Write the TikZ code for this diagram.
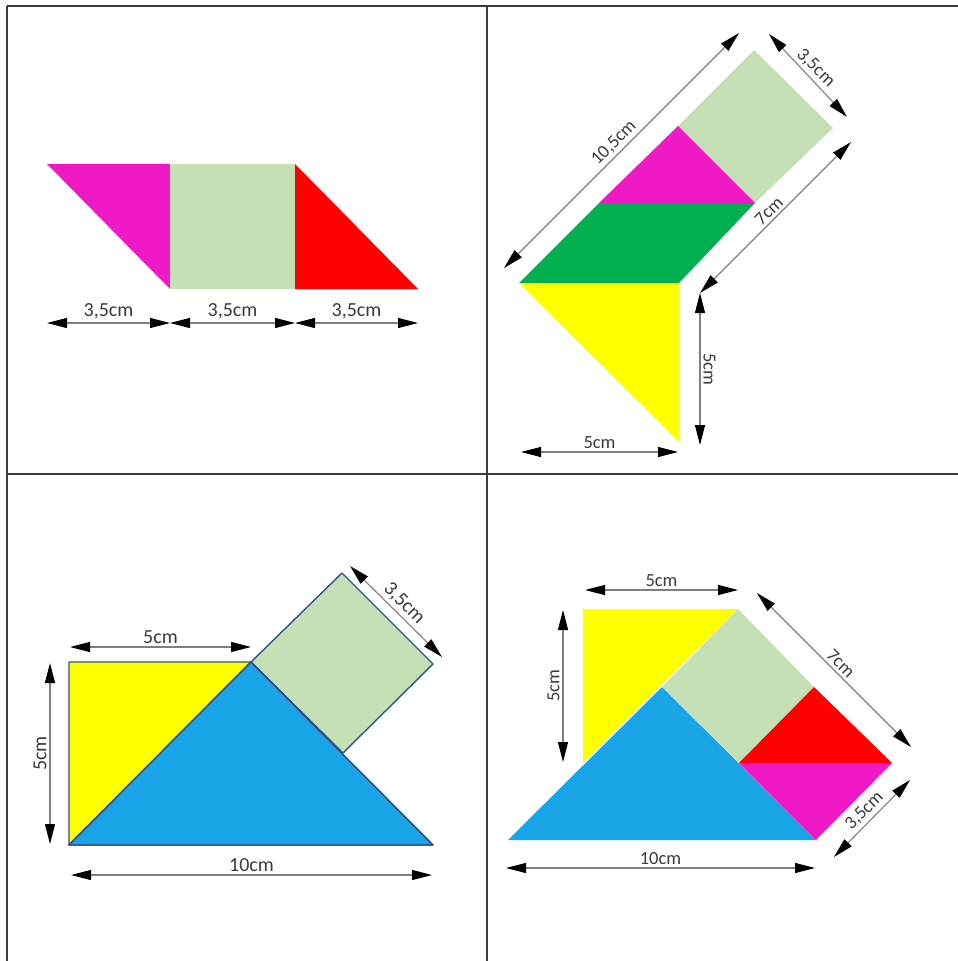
\documentclass[tikz,border=0pt]{standalone}
\usepackage{fontspec}
\setmainfont{Carlito}
\usetikzlibrary{arrows.meta}
\definecolor{mag}{HTML}{F019C6}
\definecolor{lgreen}{HTML}{C5E0B4}
\definecolor{dgreen}{HTML}{00B050}
\definecolor{sky}{HTML}{1BA5E9}
\definecolor{yel}{HTML}{FFFF00}
\definecolor{rd}{HTML}{FF0000}
\definecolor{outl}{HTML}{2F528F}
\definecolor{dimgray}{HTML}{7F7F7F}
\definecolor{txt}{HTML}{3A3A3A}
\definecolor{frame}{HTML}{3A3A3A}
\tikzset{
  dimline/.style={draw=dimgray, line width=1.1pt,
    {Triangle[length=20pt,width=10pt,color=black]}-{Triangle[length=20pt,width=10pt,color=black]}},
  lbl/.style={text=txt, inner sep=1pt, font=\fontsize{18.5}{20}\selectfont},
  lblbig/.style={lbl, font=\fontsize{20}{22}\selectfont},
  opiece/.style={draw=outl, line width=1.4pt, line join=round},
  gridline/.style={draw=frame, line width=1.6pt}
}
\begin{document}
\begin{tikzpicture}[x=1pt,y=-1pt]
\useasboundingbox (0,0) rectangle (958,961);
% ---- grid ----
\coordinate (gTL) at (7,6);
\coordinate (gTR) at (958,6);
\coordinate (gBL) at (7,961);
\coordinate (gMT) at (487,6);
\coordinate (gMB) at (487,961);
\coordinate (gML) at (7,474);
\coordinate (gMR) at (958,474);
\draw[gridline] (gTL) -- (gTR);
\draw[gridline] (gTL) -- (gBL);
\draw[gridline] (gMT) -- (gMB);
\draw[gridline] (gML) -- (gMR);

% ---- panel 1 ----
\fill[mag] (47,164) -- (170,164) -- (170,289) -- cycle;
\fill[lgreen] (170,164) rectangle (295,289);
\fill[rd] (295,164) -- (295,289) -- (418,289) -- cycle;
\coordinate (a1) at (47,323);
\coordinate (a2) at (170,323);
\coordinate (a3) at (295,323);
\coordinate (a4) at (418,323);
\draw[dimline] (a1) -- (a2) node[lblbig, midway, above=2pt] (l1a) {3,5cm};
\draw[dimline] (a2) -- (a3) node[lblbig, midway, above=2pt] (l1b) {3,5cm};
\draw[dimline] (a3) -- (a4) node[lblbig, midway, above=2pt] (l1c) {3,5cm};

% ---- panel 2 ----
\fill[lgreen] (754,50) -- (833,128) -- (755,203) -- (678,126) -- cycle;
\fill[mag] (678,126) -- (755,203) -- (599,203) -- cycle;
\fill[dgreen] (599,203) -- (755,203) -- (679,283) -- (519,283) -- cycle;
\fill[yel] (519,283) -- (679,283) -- (679,442) -- cycle;
\coordinate (b1) at (504,268);
\coordinate (b2) at (739,33);
\coordinate (b3) at (769,34);
\coordinate (b4) at (847,117);
\coordinate (b5) at (851,142);
\coordinate (b6) at (700,293);
\coordinate (b7) at (700,293);
\coordinate (b8) at (700,445);
\coordinate (b9) at (521,452);
\coordinate (b10) at (678,452);
\draw[dimline] (b1) -- (b2) node[lbl, midway, rotate=45, above=2pt] (l2a) {10,5cm};
\draw[dimline] (b3) -- (b4) node[lbl, midway, rotate=-45, above=2pt] (l2b) {3,5cm};
\draw[dimline] (b5) -- (b6) node[lbl, midway, rotate=45, above=2pt] (l2c) {7cm};
\draw[dimline] (b7) -- (b8) node[lbl, midway, rotate=-90, above=2pt] (l2d) {5cm};
\draw[dimline] (b9) -- (b10) node[lbl, midway, above=2pt] (l2e) {5cm};

% ---- panel 3 ----
\filldraw[yel, opiece] (69,662) -- (251,662) -- (69,845) -- cycle;
\filldraw[sky, opiece] (69,845) -- (251,662) -- (433,845) -- cycle;
\filldraw[lgreen, opiece] (251,662) -- (342,573) -- (433,664) -- (343,753) -- cycle;
\draw[opiece] (69,845) -- (251,662) -- (433,845) -- cycle;
\coordinate (c1) at (70,647);
\coordinate (c2) at (251,647);
\coordinate (c3) at (50,663);
\coordinate (c4) at (50,844);
\coordinate (c5) at (71,875);
\coordinate (c6) at (432,875);
\coordinate (c7) at (350,566);
\coordinate (c8) at (442,657);
\draw[dimline] (c1) -- (c2) node[lblbig, midway, above=2pt] (l3a) {5cm};
\draw[dimline] (c3) -- (c4) node[lblbig, midway, rotate=90, above=2pt] (l3b) {5cm};
\draw[dimline] (c5) -- (c6) node[lblbig, midway, above=2pt] (l3c) {10cm};
\draw[dimline] (c7) -- (c8) node[lblbig, midway, rotate=-45, above=2pt] (l3d) {3,5cm};

% ---- panel 4 ----
\fill[yel] (583,609) -- (738,609) -- (583,763) -- cycle;
\fill[sky] (508,840) -- (662,687) -- (816,840) -- cycle;
\fill[lgreen] (738,609) -- (814,687) -- (739,763) -- (662,687) -- cycle;
\fill[rd] (814,687) -- (892,763) -- (739,763) -- cycle;
\fill[mag] (739,763) -- (892,763) -- (816,840) -- cycle;
\coordinate (d1) at (585,590);
\coordinate (d2) at (738,590);
\coordinate (d3) at (563,610);
\coordinate (d4) at (563,762);
\coordinate (d5) at (757,593);
\coordinate (d6) at (911,747);
\coordinate (d7) at (910,780);
\coordinate (d8) at (834,857);
\coordinate (d9) at (506,868);
\coordinate (d10) at (815,868);
\draw[dimline] (d1) -- (d2) node[lbl, midway, above=2pt] (l4a) {5cm};
\draw[dimline] (d3) -- (d4) node[lbl, midway, rotate=90, above=2pt] (l4b) {5cm};
\draw[dimline] (d5) -- (d6) node[lbl, midway, rotate=-45, above=2pt] (l4c) {7cm};
\draw[dimline] (d7) -- (d8) node[lbl, midway, rotate=45, above=2pt] (l4d) {3,5cm};
\draw[dimline] (d9) -- (d10) node[lbl, midway, above=2pt] (l4e) {10cm};
\end{tikzpicture}
\end{document}
